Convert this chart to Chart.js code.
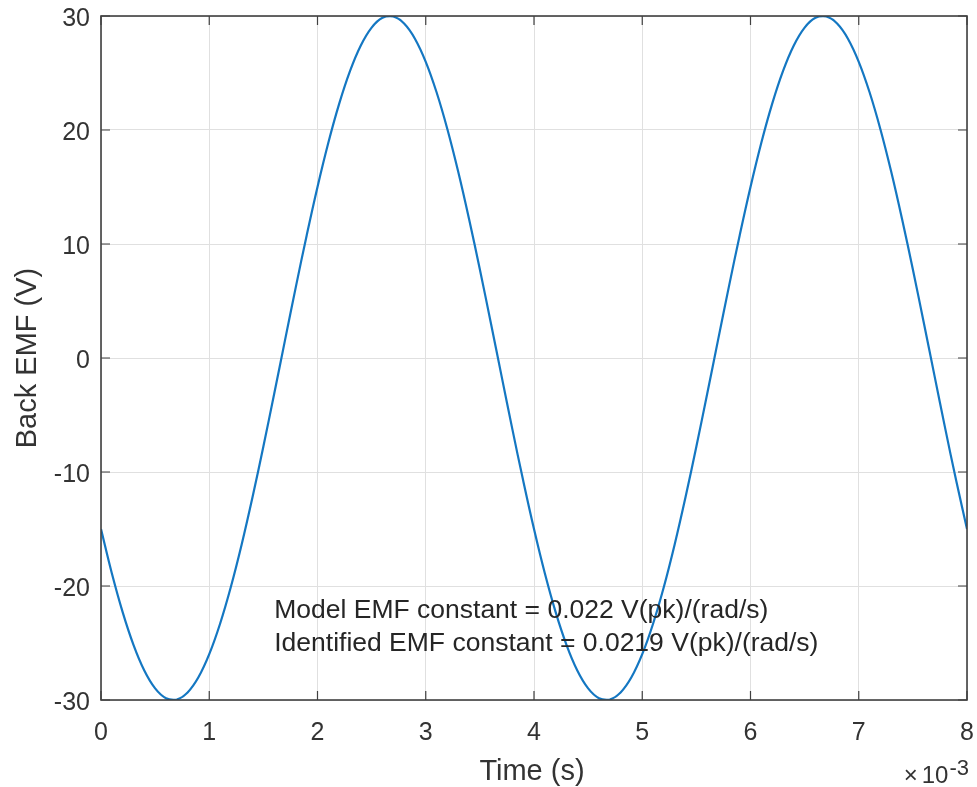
<!DOCTYPE html>
<html><head><meta charset="utf-8">
<script src="https://cdn.jsdelivr.net/npm/chart.js@4/dist/chart.umd.min.js"></script>
<style>html,body{margin:0;padding:0;background:#fff}#w{width:977px;height:787px}</style>
</head><body><div id="w"><canvas id="c" width="977" height="787"></canvas></div>
<script>
const timeMs = [0.0,0.1,0.2,0.3,0.4,0.5,0.6,0.7,0.8,0.9,1.0,1.1,1.2,1.3,1.4,1.5,1.6,1.7,1.8,1.9,2.0,2.1,2.2,2.3,2.4,2.5,2.6,2.7,2.8,2.9,3.0,3.1,3.2,3.3,3.4,3.5,3.6,3.7,3.8,3.9,4.0,4.1,4.2,4.3,4.4,4.5,4.6,4.7,4.8,4.9,5.0,5.1,5.2,5.3,5.4,5.5,5.6,5.7,5.8,5.9,6.0,6.1,6.2,6.3,6.4,6.5,6.6,6.7,6.8,6.9,7.0,7.1,7.2,7.3,7.4,7.5,7.6,7.7,7.8,7.9,8.0];
const backEmf = [-15.0,-18.88,-22.29,-25.16,-27.41,-28.98,-29.84,-29.96,-29.34,-28.01,-25.98,-23.31,-20.07,-16.34,-12.20,-7.76,-3.14,1.57,6.24,10.75,15.0,18.88,22.29,25.16,27.41,28.98,29.84,29.96,29.34,28.01,25.98,23.31,20.07,16.34,12.20,7.76,3.14,-1.57,-6.24,-10.75,
-15.0,-18.88,-22.29,-25.16,-27.41,-28.98,-29.84,-29.96,-29.34,-28.01,-25.98,-23.31,-20.07,-16.34,-12.20,-7.76,-3.14,1.57,6.24,10.75,15.0,18.88,22.29,25.16,27.41,28.98,29.84,29.96,29.34,28.01,25.98,23.31,20.07,16.34,12.20,7.76,3.14,-1.57,-6.24,-10.75,-15.0];
const xTicks = [0,1,2,3,4,5,6,7,8];
const yTicks = [-30,-20,-10,0,10,20,30];
const xTitle = 'Time (s)';
const yTitle = 'Back EMF (V)';
const notes = ["Model EMF constant = 0.022 V(pk)/(rad/s)", "Identified EMF constant = 0.0219 V(pk)/(rad/s)"];
const FONT = "'Liberation Sans', Arial, Helvetica, sans-serif";
const TXT = '#333333';

const boxPlugin = {
  id: 'box',
  afterDatasetsDraw(chart) {
    const {ctx, chartArea: a, scales: {x, y}} = chart;
    ctx.save();
    ctx.strokeStyle = '#404040';
    ctx.lineWidth = 1.6;
    ctx.strokeRect(a.left, a.top, a.right - a.left, a.bottom - a.top);
    ctx.beginPath();
    xTicks.forEach(v => { const p = x.getPixelForValue(v); ctx.moveTo(p, a.bottom); ctx.lineTo(p, a.bottom - 9); ctx.moveTo(p, a.top); ctx.lineTo(p, a.top + 9); });
    yTicks.forEach(v => { const p = y.getPixelForValue(v); ctx.moveTo(a.left, p); ctx.lineTo(a.left + 9, p); ctx.moveTo(a.right, p); ctx.lineTo(a.right - 9, p); });
    ctx.lineWidth = 1.2;
    ctx.stroke();
    // tick labels
    ctx.fillStyle = TXT;
    ctx.font = '25px ' + FONT;
    ctx.textBaseline = 'middle';
    ctx.textAlign = 'right';
    yTicks.forEach(v => ctx.fillText(String(v), a.left - 11, y.getPixelForValue(v) + 3));
    ctx.textAlign = 'center';
    xTicks.forEach(v => ctx.fillText(String(v), x.getPixelForValue(v), a.bottom + 33));
    // axis titles
    ctx.font = '29px ' + FONT;
    ctx.textBaseline = 'alphabetic';
    ctx.fillText(xTitle, (a.left + a.right) / 2 - 2, 780);
    ctx.save();
    ctx.translate(36, (a.top + a.bottom) / 2);
    ctx.rotate(-Math.PI / 2);
    ctx.fillText(yTitle, 0, 0);
    ctx.restore();
    // annotation text
    ctx.fillStyle = '#262626';
    ctx.font = '26.5px ' + FONT;
    ctx.textBaseline = 'middle';
    ctx.textAlign = 'left';
    const tx = x.getPixelForValue(1.6);
    ctx.fillText(notes[0], tx, y.getPixelForValue(-22.2));
    ctx.fillText(notes[1], tx, y.getPixelForValue(-25.1));
    // exponent label
    ctx.fillStyle = TXT;
    ctx.textBaseline = 'alphabetic';
    ctx.textAlign = 'right';
    ctx.font = '22px ' + FONT;
    ctx.fillText('-3', 969, 775);
    const w3 = ctx.measureText('-3').width;
    ctx.font = '24px ' + FONT;
    ctx.fillText('10', 969 - w3 - 1, 783);
    const w10 = ctx.measureText('10').width;
    ctx.fillText('\u00d7', 969 - w3 - 1 - w10 - 4, 783);
    ctx.restore();
  }
};

new Chart(document.getElementById('c'), {
  type: 'line',
  data: { datasets: [{ data: timeMs.map((t, i) => ({x: t, y: backEmf[i]})), borderColor: '#1477c2', borderWidth: 2.2, pointRadius: 0, tension: 0.4, fill: false }] },
  options: {
    responsive: false, animation: false,
    layout: { padding: { top: 16, right: 10, left: 0, bottom: 0 } },
    plugins: { legend: { display: false }, tooltip: { enabled: false } },
    scales: {
      x: { type: 'linear', min: 0, max: 8,
        afterBuildTicks: s => { s.ticks = xTicks.map(v => ({value: v})); },
        afterFit: s => { s.height = 87; },
        grid: { color: '#e0e0e0', lineWidth: 1, drawTicks: false },
        border: { display: false },
        ticks: { display: false } },
      y: { min: -30, max: 30,
        afterBuildTicks: s => { s.ticks = yTicks.map(v => ({value: v})); },
        afterFit: s => { s.width = 101; },
        grid: { color: '#e0e0e0', lineWidth: 1, drawTicks: false },
        border: { display: false },
        ticks: { display: false } }
    }
  },
  plugins: [boxPlugin]
});
</script></body></html>
